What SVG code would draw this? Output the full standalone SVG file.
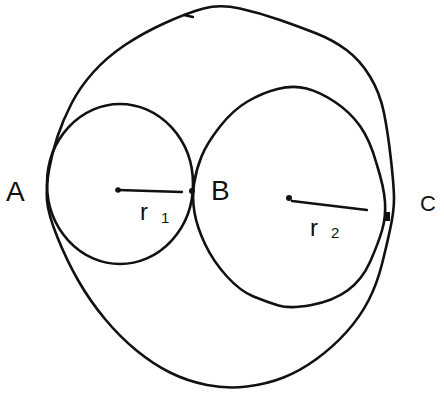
<svg xmlns="http://www.w3.org/2000/svg" width="444" height="394" viewBox="0 0 444 394">
<style>
.c{fill:none;stroke:#111;stroke-width:2.6;stroke-linejoin:round}
.r{fill:none;stroke:#111;stroke-width:2.4;stroke-linecap:round}
.t{font-family:"Liberation Sans",sans-serif;font-size:28px;fill:#111}
.v{font-family:"Liberation Sans",sans-serif;font-size:24px;fill:#111}
.s{font-family:"Liberation Sans",sans-serif;font-size:15px;fill:#111}
</style>
<rect width="444" height="394" fill="#fff"/>
<g id="outer">
<path class="c" d="M203.5,8.5 Q220,4 240,8.5 Q260,13 280,20 Q300,27 316.5,33.5 Q333,40 346.5,50 Q360,60 370,76.5 Q380,93 384,113 Q388,133 391,160 Q394,187 394,199 Q394,211 390.5,227.5 Q387,244 382,264 Q377,284 368.5,300.5 Q360,317 346.5,332 Q333,347 316.5,359 Q300,371 283.5,377.5 Q267,384 247,386.5 Q227,389 207,385 Q187,381 170,372.5 Q153,364 136.5,350.5 Q120,337 105,319 Q90,301 78.5,281 Q67,261 57.5,237.5 Q48,214 47,200.5 Q46,187 49,170 Q52,153 57.5,136.5 Q63,120 71.5,103.5 Q80,87 93.5,72 Q107,57 125,45 Q143,33 165,23 Q187,13 203.5,8.5 Z"/>
<path class="r" d="M184,15 L193,17"/>
</g>
<g id="circle1">
<ellipse class="c" cx="120" cy="184" rx="73" ry="80"/>
</g>
<g id="circle2">
<path class="c" d="M277.5,89 Q293,85 306.5,88.5 Q320,92 335,102 Q350,112 360,126 Q370,140 376.5,163.5 Q384,187 385,202 Q386,217 382,230.5 Q378,244 370,262 Q362,280 347.5,290.5 Q333,301 311.5,305 Q290,309 278.5,305.5 Q267,302 253.5,296.5 Q240,291 226.5,276 Q213,261 205,244 Q197,227 194.5,212.5 Q192,198 194,184 Q196,170 201.5,156.5 Q207,143 220,126.5 Q233,110 247.5,101.5 Q262,93 277.5,89 Z"/>
</g>
<g id="connectors">
<line class="r" x1="118" y1="190" x2="182" y2="192"/>
<line class="r" x1="292" y1="201" x2="367" y2="210"/>
</g>
<g id="points">
<circle cx="118" cy="190" r="2.8" fill="#111"/>
<circle cx="192" cy="191" r="3" fill="#111"/>
<circle cx="289" cy="198" r="3" fill="#111"/>
<rect x="384" y="212" width="6" height="9" fill="#111"/>
</g>
<g id="labels">
<text class="t" x="6" y="201">A</text>
<text class="t" x="211" y="200">B</text>
<text class="t" x="420" y="211" style="font-size:22px">C</text>
<text class="v" x="140" y="220">r<tspan class="s" x="161" y="223">1</tspan></text>
<text class="v" x="310" y="236">r<tspan class="s" x="331" y="238">2</tspan></text>
</g>
</svg>
